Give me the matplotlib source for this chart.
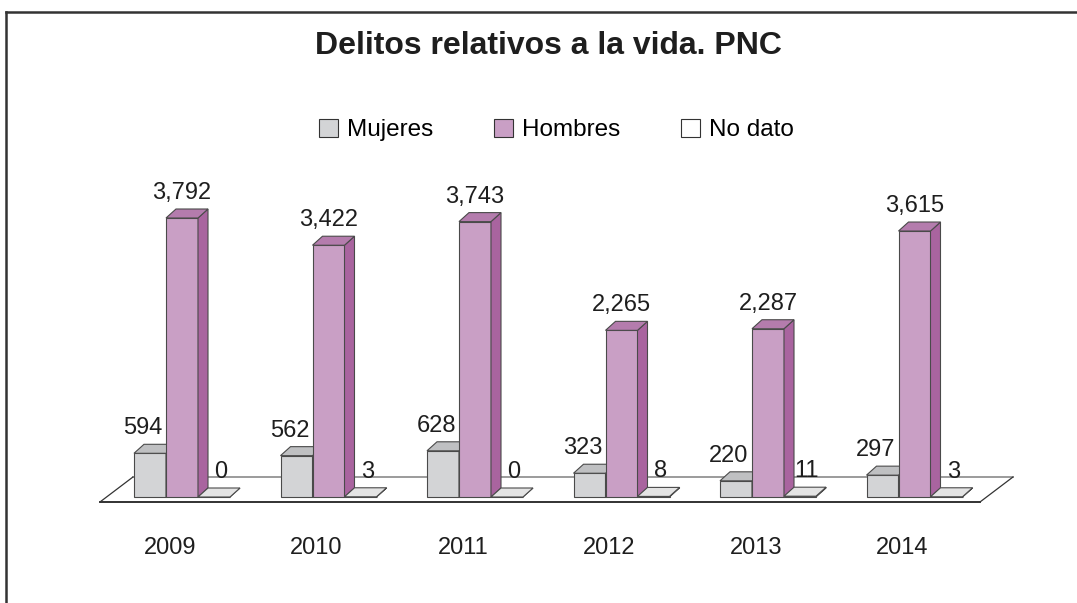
import matplotlib
matplotlib.use("Agg")
import matplotlib.pyplot as plt
from matplotlib.patches import Polygon, Patch
from matplotlib.lines import Line2D

plt.rcParams["font.family"] = ["Liberation Sans", "DejaVu Sans"]

years = ["2009", "2010", "2011", "2012", "2013", "2014"]
mujeres = [594, 562, 628, 323, 220, 297]
hombres = [3792, 3422, 3743, 2265, 2287, 3615]
no_dato = [0, 3, 0, 8, 11, 3]

series = [
    ("Mujeres", mujeres, "#d3d4d6", "#bfc0c2", "#a9aaac", -1),
    ("Hombres", hombres, "#c99fc5", "#b47cad", "#a9649f", 0),
    ("No dato", no_dato, "#ffffff", "#e4e4e4", "#b8b8b8", 1),
]

W, H = 1077, 603
fig = plt.figure(figsize=(W / 100, H / 100), dpi=100)
ax = fig.add_axes([0, 0, 1, 1])
ax.set_axis_off()

# pixel layout -> data scales
px_x = 146.5          # pixels per category
px_y = 279 / 3792     # pixels per unit
x0_px, base_px = 182, 497
ax.set_xlim(-x0_px / px_x, (W - x0_px) / px_x)
ax.set_ylim(-(H - base_px) / px_y, base_px / px_y)

bw = 32 / px_x
dx, dy = 10 / px_x, 9 / px_y
edge = "#4a4a4a"
txt = "#1e1e1e"

# floor
fdx, fdy = 33 / px_x, 25 / px_y
fy = -5 / px_y
fl, fr = -0.56, 5.447
ax.add_patch(Polygon([(fl, fy), (fr, fy), (fr + fdx, fy + fdy), (fl + fdx, fy + fdy)],
                     closed=True, facecolor="white", edgecolor="none", zorder=1))
ax.plot([fl, fr], [fy, fy], color="#222222", lw=1.3, zorder=1.5)
ax.plot([fl + fdx, fr + fdx], [fy + fdy, fy + fdy], color="#8a8a8a", lw=1.2, zorder=1.5)
ax.plot([fl, fl + fdx], [fy, fy + fdy], color="#333333", lw=0.9, zorder=1.5)
ax.plot([fr, fr + fdx], [fy, fy + fdy], color="#333333", lw=0.9, zorder=1.5)

z = 2
for i, year in enumerate(years):
    for name, vals, front, top, side, off in series:
        x = i + off * bw
        v = vals[i]
        l, r = x - bw / 2, x + bw / 2
        ax.bar(x, v, width=bw, color=front, edgecolor=edge, linewidth=0.8, zorder=z)
        ax.add_patch(Polygon([(r, 0), (r + dx, dy), (r + dx, v + dy), (r, v)],
                             closed=True, facecolor=side, edgecolor=edge, lw=0.8, zorder=z))
        ax.add_patch(Polygon([(l, v), (r, v), (r + dx, v + dy), (l + dx, v + dy)],
                             closed=True, facecolor=top, edgecolor=edge, lw=0.8, zorder=z))
        z += 1
        ax.text(x + off * 7 / px_x, v + 19 / px_y, f"{v:,}", ha="center", va="baseline",
                fontsize=17, color=txt, zorder=50)
    ax.text(i - 12 / px_x, -(548 - base_px) / px_y, year, ha="center", va="center",
            fontsize=17, color=txt)

fig.text(548 / W, 1 - 54 / H, "Delitos relativos a la vida. PNC", ha="center",
         va="baseline", fontsize=23, fontweight="bold", color=txt)

handles = [Patch(facecolor=s[2], edgecolor="#333333", linewidth=0.8) for s in series]
fig.legend(handles, [s[0] for s in series], loc="center", ncol=3, frameon=False,
           bbox_to_anchor=(556 / W, 1 - 130 / H), fontsize=17.5, handlelength=0.8,
           handleheight=0.8, handletextpad=0.35, columnspacing=2.5)

# chart border (top and left visible)
fig.add_artist(Line2D([6 / W, 6 / W], [0, 1 - 12 / H], color="#333333", lw=1.8))
fig.add_artist(Line2D([6 / W, 1], [1 - 12 / H, 1 - 12 / H], color="#333333", lw=1.8))

fig.savefig("out.png", dpi=100)
